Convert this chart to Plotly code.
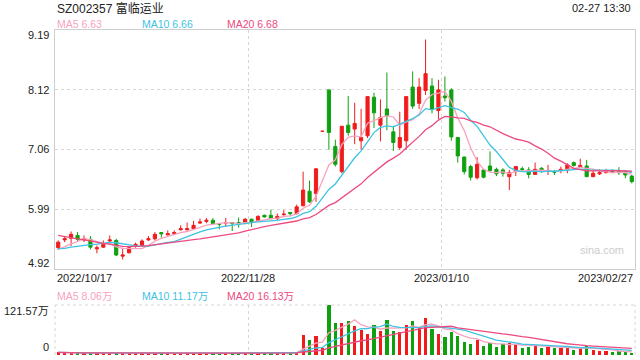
import plotly.graph_objects as go
import pandas as pd

# ---------------- data ----------------
title_text = "SZ002357 富临运业"
time_text = "02-27 13:30"
date_labels = ["2022/10/17", "2022/11/28", "2023/01/10", "2023/02/27"]
date_label_idx = [0, 30, 60, 89]
price_ticks = [4.92, 5.99, 7.06, 8.12, 9.19]
vol_ticks = [0, 121.57]
price_ma_text = ["MA5 6.63", "MA10 6.66", "MA20 6.68"]
vol_ma_text = ["MA5 8.06万", "MA10 11.17万", "MA20 16.13万"]

opens = [5.30, 5.44, 5.47, 5.52, 5.44, 5.45, 5.28, 5.31, 5.42, 5.43,
         5.15, 5.21, 5.33, 5.34, 5.44, 5.46, 5.57, 5.53, 5.55, 5.62,
         5.62, 5.64, 5.74, 5.77, 5.79, 5.73, 5.74, 5.75, 5.75, 5.75,
         5.81, 5.79, 5.88, 5.88, 5.82, 5.89, 5.93, 5.91, 6.05, 6.31,
         6.27, 7.38, 8.12, 7.11, 6.66, 7.49, 7.42, 7.21, 7.30, 7.99,
         7.49, 7.78, 7.37, 7.09, 7.21, 8.17, 7.88, 8.11, 8.19, 7.75,
         8.01, 8.12, 7.27, 6.92, 6.75, 6.55, 6.69, 6.76, 6.70, 6.69,
         6.57, 6.66, 6.71, 6.69, 6.61, 6.72, 6.67, 6.66, 6.68, 6.69,
         6.82, 6.75, 6.76, 6.57, 6.62, 6.64, 6.67, 6.68, 6.66, 6.58]
highs = [5.43, 5.51, 5.59, 5.58, 5.52, 5.51, 5.34, 5.43, 5.52, 5.46,
         5.30, 5.33, 5.39, 5.45, 5.51, 5.58, 5.58, 5.61, 5.61, 5.70,
         5.75, 5.78, 5.82, 5.83, 5.83, 5.74, 5.83, 5.76, 5.84, 5.83,
         5.82, 5.88, 5.89, 5.98, 5.91, 5.97, 5.93, 6.07, 6.66, 6.50,
         6.72, 7.38, 8.12, 7.23, 7.47, 8.01, 7.89, 7.78, 8.00, 8.07,
         7.95, 8.43, 7.48, 7.73, 8.00, 8.45, 8.33, 9.02, 8.33, 8.30,
         8.36, 8.15, 7.28, 6.93, 6.78, 6.92, 6.70, 7.02, 6.73, 6.72,
         6.69, 6.76, 6.75, 6.74, 6.82, 6.74, 6.78, 6.69, 6.75, 6.81,
         6.84, 6.89, 6.87, 6.70, 6.70, 6.71, 6.70, 6.74, 6.68, 6.60]
lows = [5.26, 5.40, 5.33, 5.42, 5.40, 5.27, 5.20, 5.30, 5.40, 5.15,
        5.09, 5.20, 5.30, 5.33, 5.42, 5.43, 5.48, 5.52, 5.54, 5.61,
        5.61, 5.63, 5.73, 5.74, 5.72, 5.63, 5.67, 5.60, 5.66, 5.72,
        5.67, 5.78, 5.84, 5.82, 5.79, 5.87, 5.86, 5.89, 6.04, 6.10,
        6.12, 7.38, 7.05, 6.75, 6.63, 7.30, 7.15, 7.05, 7.26, 7.44,
        7.20, 7.40, 7.03, 7.05, 7.05, 7.78, 7.78, 8.03, 7.70, 7.60,
        7.91, 7.21, 6.82, 6.61, 6.50, 6.52, 6.54, 6.66, 6.58, 6.57,
        6.33, 6.58, 6.66, 6.54, 6.60, 6.64, 6.60, 6.60, 6.63, 6.63,
        6.75, 6.75, 6.56, 6.56, 6.60, 6.63, 6.64, 6.60, 6.54, 6.45]
closes = [5.40, 5.46, 5.54, 5.45, 5.46, 5.31, 5.30, 5.36, 5.44, 5.17,
          5.17, 5.30, 5.36, 5.42, 5.46, 5.54, 5.55, 5.55, 5.57, 5.64,
          5.64, 5.70, 5.76, 5.79, 5.73, 5.72, 5.75, 5.73, 5.73, 5.81,
          5.75, 5.86, 5.85, 5.82, 5.86, 5.90, 5.91, 6.03, 6.33, 6.12,
          6.71, 7.38, 7.36, 6.79, 7.47, 7.36, 7.52, 7.27, 8.00, 7.71,
          7.63, 7.66, 7.18, 7.27, 8.00, 7.83, 8.17, 8.41, 7.78, 8.12,
          7.98, 7.28, 6.94, 6.66, 6.56, 6.79, 6.56, 6.68, 6.62, 6.63,
          6.64, 6.75, 6.70, 6.61, 6.70, 6.68, 6.68, 6.65, 6.70, 6.78,
          6.77, 6.77, 6.57, 6.63, 6.64, 6.68, 6.66, 6.64, 6.60, 6.48]
# closes of the 19 sessions before the first visible day (estimated from where the MA lines start)
prior_closes = [5.95, 5.90, 5.86, 5.82, 5.78, 5.74, 5.70, 5.66, 5.60, 5.56,
                5.40, 5.34, 5.28, 5.25, 5.21, 5.22, 5.25, 5.24, 5.24]
# volume in 万 shares
volumes = [6.5, 5.0, 6.0, 5.0, 4.0, 5.5, 4.5, 4.0, 4.0, 6.0,
           5.0, 5.0, 4.0, 4.5, 4.0, 5.0, 4.0, 4.0, 4.0, 5.0,
           5.0, 5.5, 5.0, 4.0, 4.0, 5.0, 4.0, 5.0, 5.0, 5.0,
           5.0, 5.5, 5.0, 6.0, 5.0, 5.0, 5.0, 8.0, 48.6, 36.5,
           46.2, 17.8, 121.57, 77.0, 77.0, 82.6, 70.5, 60.8, 51.0, 72.9,
           58.3, 85.1, 58.3, 55.9, 72.9, 82.6, 66.4, 90.7, 63.2, 51.0,
           43.8, 55.9, 46.2, 31.6, 26.7, 36.5, 21.9, 29.9, 20.2, 26.7,
           28.4, 26.7, 17.8, 20.2, 22.6, 17.8, 20.2, 17.8, 17.8, 17.8,
           12.2, 16.2, 22.6, 12.2, 9.7, 9.7, 7.3, 9.7, 7.3, 4.9]

# ---------------- styles ----------------
W, H = 640, 360
RED = "#f01c1c"
GREEN = "#0fa00f"
C_MA5 = "#f8a2bf"
C_MA10 = "#3ec3e2"
C_MA20 = "#ec4a80"
MA_COLORS = [C_MA5, C_MA10, C_MA20]
FONT = "Liberation Sans, Arial, Noto Sans CJK SC, sans-serif"
GRID = "#d6d6d6"
BORDER = "#cfcfcf"

n = len(closes)
idx = list(range(n))
npre = len(prior_closes)
all_c = pd.Series(prior_closes + closes)
ma = {k: all_c.rolling(k).mean().iloc[npre:].tolist() for k in (5, 10, 20)}
vs = pd.Series(volumes)
vma = {k: vs.rolling(k, min_periods=1).mean().tolist() for k in (5, 10, 20)}

vol_colors = []
for i in range(n):
    if closes[i] > opens[i]:
        vol_colors.append(RED)
    elif closes[i] < opens[i]:
        vol_colors.append(GREEN)
    else:
        prev = closes[i - 1] if i > 0 else prior_closes[-1]
        vol_colors.append(RED if closes[i] >= prev else GREEN)

# layout pixel geometry
px_l, px_r = 55, 635
main_top, main_bot = 30, 269
vol_top, vol_bot = 305, 355
def fy(py):
    return 1 - py / H

fig = go.Figure()
fig.add_trace(go.Candlestick(
    x=idx, open=opens, high=highs, low=lows, close=closes,
    increasing=dict(line=dict(color=RED, width=1), fillcolor=RED),
    decreasing=dict(line=dict(color=GREEN, width=1), fillcolor=GREEN),
    whiskerwidth=0, showlegend=False, hoverinfo="skip",
    xaxis="x", yaxis="y"))
for k, col in zip((5, 10, 20), MA_COLORS):
    fig.add_trace(go.Scatter(x=idx, y=ma[k], mode="lines",
                             line=dict(color=col, width=1.3),
                             showlegend=False, hoverinfo="skip",
                             xaxis="x", yaxis="y"))
fig.add_trace(go.Bar(x=idx, y=volumes, marker=dict(color=vol_colors, line=dict(width=0)),
                     width=0.5, showlegend=False, hoverinfo="skip",
                     xaxis="x2", yaxis="y2"))
for k, col in zip((5, 10, 20), MA_COLORS):
    fig.add_trace(go.Scatter(x=idx, y=vma[k], mode="lines",
                             line=dict(color=col, width=1.3),
                             showlegend=False, hoverinfo="skip",
                             xaxis="x2", yaxis="y2"))

xrange = [-0.5, n - 0.5]
grid_x = [date_label_idx[1] - 0.5, date_label_idx[2] - 0.5]
xdom = [px_l / W, px_r / W]

fig.update_layout(
    width=W, height=H, margin=dict(l=0, r=0, t=0, b=0),
    paper_bgcolor="white", plot_bgcolor="white",
    font=dict(family=FONT, size=11, color="#333"),
    showlegend=False, bargap=0,
    xaxis=dict(domain=xdom, range=xrange, anchor="y",
               tickmode="array", tickvals=grid_x, showticklabels=False, ticks="",
               showgrid=True, gridcolor=GRID, griddash="dot", gridwidth=1,
               showline=True, mirror=True, linecolor=BORDER, linewidth=1,
               zeroline=False, rangeslider=dict(visible=False), fixedrange=True),
    yaxis=dict(domain=[fy(main_bot), fy(main_top)], range=[price_ticks[0], price_ticks[-1]],
               anchor="x", tickmode="array", tickvals=price_ticks[1:-1],
               showticklabels=False, ticks="",
               showgrid=True, gridcolor=GRID, griddash="dot", gridwidth=1,
               showline=True, mirror=True, linecolor=BORDER, linewidth=1,
               zeroline=False, fixedrange=True),
    xaxis2=dict(domain=xdom, range=xrange, anchor="y2",
                tickmode="array", tickvals=grid_x, showticklabels=False, ticks="",
                showgrid=True, gridcolor=GRID, griddash="dot", gridwidth=1,
                showline=False, zeroline=False, fixedrange=True),
    yaxis2=dict(domain=[fy(vol_bot), fy(vol_top)], range=vol_ticks,
                anchor="x2", showticklabels=False, ticks="", showgrid=False,
                showline=False, zeroline=False, fixedrange=True),
)

# dotted frame for volume panel (top, left, right)
for (x0, y0, x1, y1) in [(0, 1, 1, 1), (0, 0, 0, 1), (1, 0, 1, 1)]:
    fig.add_shape(type="line", xref="x2 domain", yref="y2 domain",
                  x0=x0, y0=y0, x1=x1, y1=y1,
                  line=dict(color=GRID, width=1, dash="dot"))

ann = []
# header
ann.append(dict(text=title_text, x=px_l / W, y=fy(8), xanchor="left", yanchor="middle",
                font=dict(size=12, color="#222")))
ann.append(dict(text=time_text, x=633 / W, y=fy(8), xanchor="right", yanchor="middle",
                font=dict(size=11, color="#222")))
ma_x = [55, 140, 225]
for t, col, x in zip(price_ma_text, MA_COLORS, ma_x):
    ann.append(dict(text=t, x=x / W, y=fy(24.5), xanchor="left", yanchor="middle",
                    font=dict(size=10.5, color=col)))
for t, col, x in zip(vol_ma_text, MA_COLORS, ma_x):
    ann.append(dict(text=t, x=x / W, y=fy(295.5), xanchor="left", yanchor="middle",
                    font=dict(size=10.5, color=col)))
for a in ann:
    a.update(xref="paper", yref="paper", showarrow=False)

# price axis labels
for j, v in enumerate(price_ticks):
    shift = -5 if j == len(price_ticks) - 1 else (6 if j == 0 else 0)
    ann.append(dict(text=f"{v:.2f}", xref="paper", yref="y", x=51 / W, y=v,
                    xanchor="right", yanchor="middle", yshift=shift, showarrow=False,
                    font=dict(size=11, color="#222")))
# volume axis labels
ann.append(dict(text=f"{vol_ticks[1]:.2f}万", xref="paper", yref="y2", x=51 / W, y=vol_ticks[1],
                xanchor="right", yanchor="middle", yshift=-6, showarrow=False,
                font=dict(size=11, color="#222")))
ann.append(dict(text="0", xref="paper", yref="y2", x=51 / W, y=vol_ticks[0],
                xanchor="right", yanchor="middle", yshift=8, showarrow=False,
                font=dict(size=11, color="#222")))
# date labels
anchors = ["left", "center", "center", "right"]
for lab, i, anc in zip(date_labels, date_label_idx, anchors):
    xv = i - 0.5 if anc != "right" else i + 0.5
    ann.append(dict(text=lab, xref="x", yref="paper", x=xv, y=fy(278),
                    xanchor=anc, yanchor="middle", showarrow=False,
                    font=dict(size=11, color="#222")))
# watermark
ann.append(dict(text="sina.com", xref="paper", yref="paper", x=602 / W, y=fy(249.5),
                xanchor="center", yanchor="middle", showarrow=False,
                font=dict(size=11, color="#cccccc")))

fig.update_layout(annotations=ann)
fig.write_html("out.html")
